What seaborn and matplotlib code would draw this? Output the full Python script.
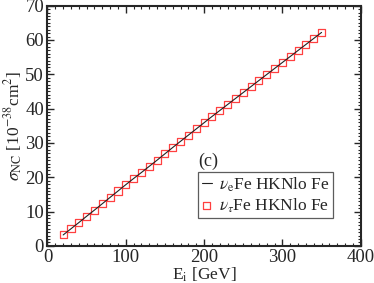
import matplotlib
matplotlib.use("Agg")
import matplotlib.pyplot as plt
from matplotlib.ticker import MultipleLocator
import seaborn as sns

# incoming neutrino energy [GeV]
energy = [20, 30, 40, 50, 60, 70, 80, 90, 100, 110, 120, 130, 140, 150, 160, 170, 180,
          190, 200, 210, 220, 230, 240, 250, 260, 270, 280, 290, 300, 310, 320, 330, 340, 350]

# NC cross sections [1e-38 cm^2]
sigma_nue = [3.2, 5.0, 6.8, 8.65, 10.45, 12.3, 14.15, 16.0, 17.85, 19.65, 21.4, 23.2,
             25.0, 26.85, 28.7, 30.5, 32.3, 34.1, 35.9, 37.7, 39.45, 41.2, 42.95, 44.7,
             46.45, 48.2, 49.95, 51.7, 53.45, 55.2, 56.95, 58.7, 60.45, 62.2]
sigma_nutau = [3.2, 5.0, 6.8, 8.65, 10.45, 12.3, 14.15, 16.0, 17.85, 19.65, 21.4, 23.2,
               25.0, 26.85, 28.7, 30.5, 32.3, 34.1, 35.9, 37.7, 39.45, 41.2, 42.95, 44.7,
               46.45, 48.2, 49.95, 51.7, 53.45, 55.2, 56.95, 58.7, 60.45, 62.2]

labels = [r"$\nu_{\rm e}$Fe HKNlo Fe", r"$\nu_{\tau}$Fe HKNlo Fe"]

sns.set_style("ticks")
plt.rcParams["font.family"] = ["Liberation Serif", "DejaVu Serif"]
plt.rcParams["mathtext.fontset"] = "stix"

fig = plt.figure(figsize=(3.74, 2.83), dpi=100)
ax = fig.add_axes([0.127, 0.131, 0.8375, 0.849])

sns.lineplot(x=energy, y=sigma_nue, color="#222222", linewidth=0.8, label=labels[0], ax=ax)
sns.scatterplot(x=energy, y=sigma_nutau, marker="s", facecolor="none", edgecolor="#ff4040",
                linewidth=0.9, s=26, label=labels[1], ax=ax)

ax.set_xlim(0, 400)
ax.set_ylim(0, 70)
ax.xaxis.set_major_locator(MultipleLocator(100))
ax.xaxis.set_minor_locator(MultipleLocator(10))
ax.yaxis.set_major_locator(MultipleLocator(10))
ax.yaxis.set_minor_locator(MultipleLocator(1))
ax.tick_params(which="both", direction="in", top=True, right=True, labelsize=13.5)
ax.tick_params(axis="x", pad=2)
ax.tick_params(axis="y", pad=2.5)
ax.tick_params(which="major", length=5, width=1)
ax.tick_params(which="minor", length=2.5, width=0.8)
for s in ax.spines.values():
    s.set_linewidth(1.5)

ax.set_xlabel(r"E$_{\rm i}$ [GeV]", fontsize=12.5, labelpad=0)
ax.set_ylabel(r"$\sigma_{\rm NC}$ [10$^{-38}$cm$^{2}$]", fontsize=12.5, labelpad=0)

ax.text(0.48, 0.35, "(c)", transform=ax.transAxes, fontsize=13, va="center", ha="left")
leg = ax.legend(loc="upper left", bbox_to_anchor=(0.481, 0.309), borderaxespad=0,
                fancybox=False, fontsize=12.5, handlelength=0.6, handletextpad=0.4,
                borderpad=0.2, labelspacing=0.15)
leg.get_frame().set_edgecolor("#333333")
leg.get_frame().set_linewidth(0.9)

fig.savefig("out.png", dpi=100)
